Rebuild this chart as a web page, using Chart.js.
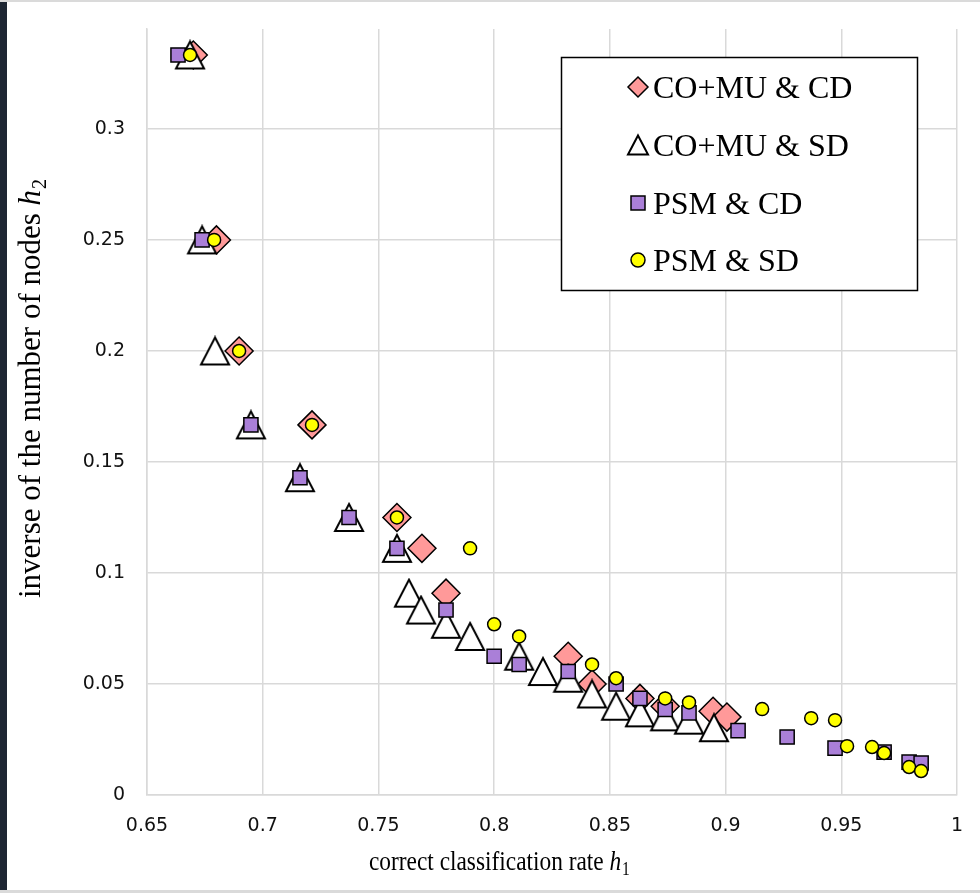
<!DOCTYPE html>
<html>
<head>
<meta charset="utf-8">
<script src="https://cdn.jsdelivr.net/npm/chart.js@4.4.0/dist/chart.umd.min.js"></script>
<style>
  html, body { margin: 0; padding: 0; background: #fff; }
  #wrap { position: relative; width: 980px; height: 893px; overflow: hidden; }
  #edgeL { position: absolute; left: 0; top: 0; width: 7px; height: 893px; background: #1e2633; }
  #edgeT { position: absolute; left: 0; top: 0; width: 980px; height: 2px; background: #dadada; }
  #edgeB { position: absolute; left: 0; bottom: 0; width: 980px; height: 3px; background: #dadada; }
</style>
</head>
<body>
<div id="wrap">
  <canvas id="scatter" width="980" height="893"></canvas>
  <div id="edgeL"></div><div id="edgeT"></div><div id="edgeB"></div>
</div>
<script>
// series names (legend order)
var seriesNames = ["CO+MU & CD", "CO+MU & SD", "PSM & CD", "PSM & SD"];

// CO+MU & CD
var coMuCdX = [0.670, 0.680, 0.6898, 0.7213, 0.758, 0.7688, 0.7792, 0.832, 0.8423, 0.863, 0.8739, 0.8946, 0.9006];
var coMuCdY = [0.3333, 0.25, 0.2, 0.1667, 0.125, 0.1111, 0.0909, 0.0625, 0.05, 0.0435, 0.04, 0.0377, 0.0351];

// CO+MU & SD
var coMuSdX = [0.6686, 0.6738, 0.6794, 0.6949, 0.7161, 0.7373, 0.758, 0.7632, 0.7684, 0.7792, 0.7896, 0.8108, 0.8211, 0.832, 0.8423, 0.8527, 0.863, 0.8739, 0.8842, 0.895];
var coMuSdY = [0.3333, 0.25, 0.2, 0.1667, 0.1429, 0.125, 0.1111, 0.0909, 0.0833, 0.0769, 0.0714, 0.0625, 0.0556, 0.0526, 0.0455, 0.04, 0.037, 0.0352, 0.0337, 0.0303];

// PSM & CD
var psmCdX = [0.6634, 0.6738, 0.6949, 0.7161, 0.7373, 0.758, 0.7792, 0.80, 0.8108, 0.832, 0.8527, 0.863, 0.8739, 0.8842, 0.9054, 0.9266, 0.9473, 0.9685, 0.9793, 0.9845];
var psmCdY = [0.3333, 0.25, 0.1667, 0.1429, 0.125, 0.1111, 0.0833, 0.0625, 0.0588, 0.0556, 0.05, 0.0435, 0.0385, 0.037, 0.029, 0.0261, 0.0211, 0.0193, 0.0148, 0.0144];

// PSM & SD
var psmSdX = [0.6686, 0.679, 0.6898, 0.7213, 0.758, 0.7896, 0.80, 0.8108, 0.8423, 0.8527, 0.8739, 0.8842, 0.9158, 0.937, 0.9473, 0.9525, 0.9633, 0.9685, 0.9793, 0.9845];
var psmSdY = [0.3333, 0.25, 0.2, 0.1667, 0.125, 0.1111, 0.0769, 0.0714, 0.0588, 0.0526, 0.0435, 0.0417, 0.0387, 0.0346, 0.0337, 0.022, 0.0216, 0.0189, 0.0126, 0.0108];

var pink = "#ff9999";
var purple = "#aa7fd8";
var yellow = "#ffff00";

function pts(xs, ys) {
  return xs.map(function (x, i) { return { x: x, y: ys[i] }; });
}

// excel-like triangle: centred on its bounding box
function makeTriangle(w, h, lw) {
  var c = document.createElement("canvas");
  c.width = Math.ceil(w + lw * 2);
  c.height = Math.ceil(h + lw * 2);
  var g = c.getContext("2d");
  var ox = (c.width - w) / 2, oy = (c.height - h) / 2;
  g.beginPath();
  g.moveTo(ox + w / 2, oy);
  g.lineTo(ox + w, oy + h);
  g.lineTo(ox, oy + h);
  g.closePath();
  g.fillStyle = "#fff";
  g.fill();
  g.lineWidth = lw;
  g.lineJoin = "miter";
  g.strokeStyle = "#000";
  g.stroke();
  return c;
}
var triBig = makeTriangle(28, 27, 2);

// title with italic symbol and subscript; fitW squeezes it to a width
function drawTitle(ctx, text, it, sub, size, cx, cy, rot, fitW) {
  var f1 = size + 'px "Liberation Serif"';
  var f2 = 'italic ' + size + 'px "Liberation Serif"';
  var f3 = Math.round(size * 0.65) + 'px "Liberation Serif"';
  ctx.save();
  ctx.font = f1; var w1 = ctx.measureText(text).width;
  ctx.font = f2; var w2 = ctx.measureText(it).width;
  ctx.font = f3; var w3 = ctx.measureText(sub).width;
  var total = w1 + w2 + w3;
  ctx.translate(cx, cy);
  ctx.rotate(rot);
  if (fitW) ctx.scale(fitW / total, 1);
  ctx.fillStyle = "#000";
  ctx.textBaseline = "alphabetic";
  ctx.textAlign = "left";
  var x0 = -total / 2;
  ctx.font = f1; ctx.fillText(text, x0, 0);
  ctx.font = f2; ctx.fillText(it, x0 + w1, 0);
  ctx.font = f3; ctx.fillText(sub, x0 + w1 + w2 + 1, size * 0.2);
  ctx.restore();
}

function legendMarker(ctx, kind, x, y) {
  ctx.save();
  ctx.lineWidth = 1.5;
  ctx.strokeStyle = "#000";
  ctx.beginPath();
  if (kind === 0) {
    ctx.moveTo(x, y - 10); ctx.lineTo(x + 10, y); ctx.lineTo(x, y + 10); ctx.lineTo(x - 10, y);
    ctx.closePath(); ctx.fillStyle = pink;
  } else if (kind === 1) {
    ctx.moveTo(x, y - 9.5); ctx.lineTo(x + 10, y + 9.5); ctx.lineTo(x - 10, y + 9.5);
    ctx.closePath(); ctx.fillStyle = "#fff"; ctx.lineWidth = 2;
  } else if (kind === 2) {
    ctx.rect(x - 7, y - 7, 14, 14); ctx.fillStyle = purple;
  } else {
    ctx.arc(x, y, 7, 0, Math.PI * 2); ctx.fillStyle = yellow;
  }
  ctx.fill();
  ctx.stroke();
  ctx.restore();
}

var overlay = {
  id: "overlay",
  afterDraw: function (chart) {
    var ctx = chart.ctx;
    drawTitle(ctx, "correct classification rate ", "h", "1", 27, 499, 870, 0, 260);
    drawTitle(ctx, "inverse of the number of nodes ", "h", "2", 31, 40, 389, -Math.PI / 2);

    // legend box inside the plot
    ctx.save();
    ctx.fillStyle = "#fff";
    ctx.fillRect(561.5, 57.5, 356, 233);
    ctx.lineWidth = 1.5;
    ctx.strokeStyle = "#000";
    ctx.strokeRect(561.5, 57.5, 356, 233);
    var rows = [87, 145, 203, 260];
    ctx.font = '32px "Liberation Serif"';
    ctx.textBaseline = "alphabetic";
    for (var i = 0; i < seriesNames.length; i++) {
      legendMarker(ctx, i, 638, rows[i]);
      ctx.fillStyle = "#000";
      ctx.fillText(seriesNames[i], 653, rows[i] + 11);
    }
    ctx.restore();
  }
};

var gridColor = "#d9d9d9";
var tickFont = { family: "DejaVu Sans", size: 19 };

new Chart(document.getElementById("scatter"), {
  type: "scatter",
  data: {
    datasets: [
      { label: seriesNames[0], data: pts(coMuCdX, coMuCdY), order: 4,
        pointStyle: "rectRot", pointRadius: 14, backgroundColor: pink, borderColor: "#000", borderWidth: 1.5 },
      { label: seriesNames[1], data: pts(coMuSdX, coMuSdY), order: 3,
        pointStyle: triBig, pointRadius: 14, backgroundColor: "#fff", borderColor: "#000", borderWidth: 2 },
      { label: seriesNames[2], data: pts(psmCdX, psmCdY), order: 2,
        pointStyle: "rect", pointRadius: 10, backgroundColor: purple, borderColor: "#000", borderWidth: 1.5 },
      { label: seriesNames[3], data: pts(psmSdX, psmSdY), order: 1,
        pointStyle: "circle", pointRadius: 6.5, backgroundColor: yellow, borderColor: "#000", borderWidth: 1.5 }
    ]
  },
  options: {
    responsive: false,
    animation: false,
    events: [],
    layout: { autoPadding: false, padding: { top: 29, right: 23, left: 0, bottom: 0 } },
    plugins: { legend: { display: false }, tooltip: { enabled: false } },
    scales: {
      x: {
        type: "linear", min: 0.65, max: 1,
        ticks: { stepSize: 0.05, padding: 20, color: "#111", font: tickFont,
          callback: function (v) { return String(+v.toFixed(2)); } },
        grid: { color: gridColor, lineWidth: 1.5, drawTicks: false },
        border: { color: gridColor, width: 1.5 },
        afterFit: function (s) { s.height = 98; s.paddingLeft = 0; s.paddingRight = 0; }
      },
      y: {
        type: "linear", min: 0, max: 0.345,
        ticks: { stepSize: 0.05, padding: 22, color: "#111", font: tickFont,
          callback: function (v) { return String(+v.toFixed(2)); } },
        grid: { color: gridColor, lineWidth: 1.5, drawTicks: false },
        border: { color: gridColor, width: 1.5 },
        afterBuildTicks: function (s) { s.ticks = s.ticks.filter(function (t) { return t.value < 0.301; }); },
        afterFit: function (s) { s.width = 147; s.paddingTop = 0; s.paddingBottom = 0; }
      }
    }
  },
  plugins: [overlay]
});
</script>
</body>
</html>
